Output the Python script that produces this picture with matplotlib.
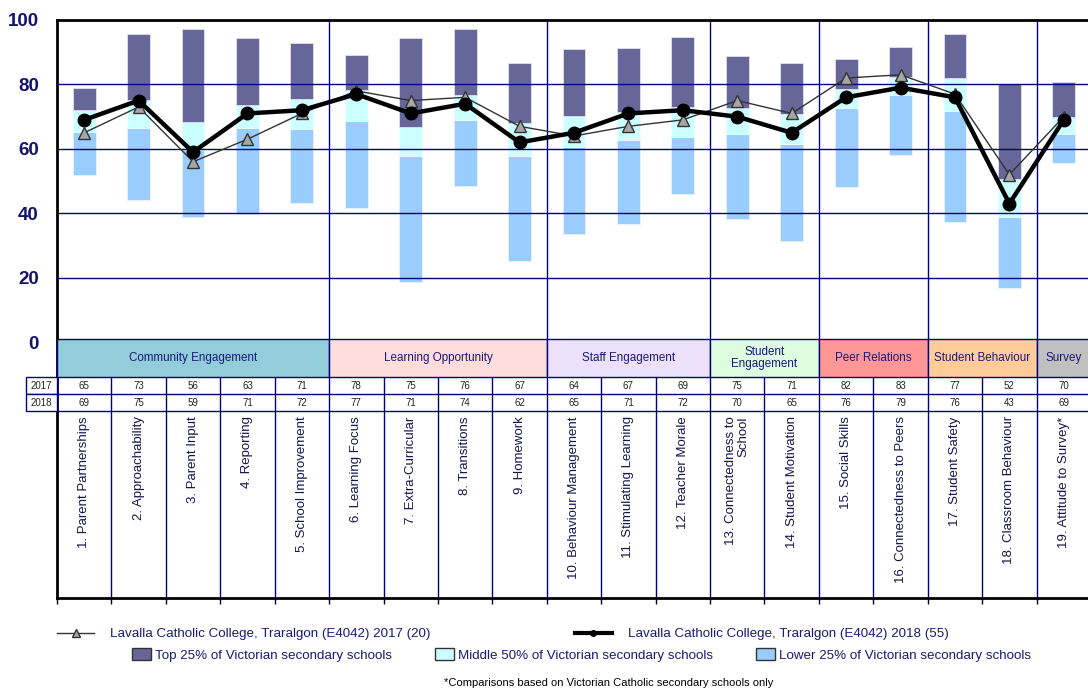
import matplotlib
matplotlib.use("Agg")
import matplotlib.pyplot as plt
from matplotlib.lines import Line2D
from matplotlib.patches import Patch, Rectangle
import numpy as np

plt.rcParams["font.family"] = ["Liberation Sans", "DejaVu Sans"]

ITEMS = [
    "1. Parent Partnerships", "2. Approachability", "3. Parent Input", "4. Reporting",
    "5. School Improvement", "6. Learning Focus", "7. Extra-Curricular", "8. Transitions",
    "9. Homework", "10. Behaviour Management", "11. Stimulating Learning",
    "12. Teacher Morale", "13. Connectedness to\nSchool", "14. Student Motivation",
    "15. Social Skills", "16. Connectedness to Peers", "17. Student Safety",
    "18. Classroom Behaviour", "19. Attitude to Survey*",
]
GROUPS = ["Community Engagement", "Learning Opportunity", "Staff Engagement",
          "Student\nEngagement", "Peer Relations", "Student Behaviour", "Survey"]
GROUP_SIZES = [5, 4, 3, 2, 2, 2, 1]
GROUP_COLORS = ["#93CDDC", "#FDDCDC", "#ECE0FA", "#DEFCDE", "#FF9797", "#FFCC99", "#C0C0C0"]

SCORES_2017 = [65, 73, 56, 63, 71, 78, 75, 76, 67, 64, 67, 69, 75, 71, 82, 83, 77, 52, 70]
SCORES_2018 = [69, 75, 59, 71, 72, 77, 71, 74, 62, 65, 71, 72, 70, 65, 76, 79, 76, 43, 69]

# Victorian secondary school quartile bands
BAND_LOW = [51.8, 44.1, 39.0, 39.8, 43.3, 41.7, 18.8, 48.5, 25.2, 33.5,
            36.7, 46.0, 38.1, 31.5, 48.3, 58.2, 37.2, 16.9, 55.6]
BAND_P25 = [65.2, 66.5, 59.5, 66.6, 66.3, 68.8, 57.7, 69.1, 57.8, 60.6,
            62.8, 63.8, 64.5, 61.4, 72.6, 76.6, 71.8, 39.0, 64.5]
BAND_P75 = [72.2, 75.2, 68.2, 73.7, 75.6, 78.4, 66.8, 76.8, 68.1, 70.2,
            71.4, 72.9, 72.7, 70.9, 78.6, 82.3, 82.1, 50.7, 69.8]
BAND_TOP = [78.9, 95.7, 97.1, 94.3, 93.0, 89.0, 94.3, 97.1, 86.7, 90.9,
            91.3, 94.6, 88.8, 86.6, 87.8, 91.6, 95.5, 80.0, 80.8]

NAVY = "#000080"
TEXT_NAVY = "#1A1A78"
LOW_COLOR = "#99CCFF"
MID_COLOR = "#CCFFFF"
TOP_COLOR = "#666699"

# table geometry in data units below zero
BAND_TOP_Y = 0.9
BAND_BOT_Y = -10.9
ROW1_BOT_Y = -16.1
ROW2_BOT_Y = -21.4
Y_MIN = -79.4

fig = plt.figure(figsize=(10.88, 6.90), dpi=100)
ax = fig.add_axes([57 / 1088, 92 / 690, 1034 / 1088, 578 / 690])

x = np.arange(1, len(ITEMS) + 1)
low = np.array(BAND_LOW)
p25 = np.array(BAND_P25)
p75 = np.array(BAND_P75)
top = np.array(BAND_TOP)

ax.bar(x, p25 - low, bottom=low, width=0.42, color=LOW_COLOR, edgecolor="#E8F2FF", linewidth=0.6, zorder=2)
ax.bar(x, p75 - p25, bottom=p25, width=0.42, color=MID_COLOR, edgecolor="#E8FFFF", linewidth=0.6, zorder=2)
ax.bar(x, top - p75, bottom=p75, width=0.42, color=TOP_COLOR, edgecolor="#E0E0F0", linewidth=0.6, zorder=2)

ax.hlines([20, 40, 60, 80], 0.5, len(ITEMS) + 0.5, color=NAVY, linewidth=1, zorder=3)

bounds = np.cumsum(GROUP_SIZES)[:-1] + 0.5
ax.vlines(bounds, BAND_TOP_Y, 100, color=NAVY, linewidth=1, zorder=3)

ax.plot(x, SCORES_2017, color="#333333", linewidth=1, marker="^", markersize=9,
        markerfacecolor="#A6A6A6", markeredgecolor="#333333", markeredgewidth=1, zorder=5)
ax.plot(x, SCORES_2018, color="black", linewidth=3.2, marker="o", markersize=9,
        markerfacecolor="black", markeredgecolor="black", zorder=6)

# group band
start = 0.5
for name, size, color in zip(GROUPS, GROUP_SIZES, GROUP_COLORS):
    ax.add_patch(Rectangle((start, BAND_BOT_Y), size, BAND_TOP_Y - BAND_BOT_Y,
                           facecolor=color, edgecolor=NAVY, linewidth=1, zorder=3))
    ax.text(start + size / 2, (BAND_TOP_Y + BAND_BOT_Y) / 2, name, ha="center", va="center",
            fontsize=8.4, color=TEXT_NAVY, linespacing=1.0, zorder=4)
    start += size

# score table
col_edges = np.arange(0.5, len(ITEMS) + 1.5)
ax.hlines([ROW1_BOT_Y, ROW2_BOT_Y], 0.5, len(ITEMS) + 0.5, color=NAVY, linewidth=1, zorder=3)
ax.vlines(col_edges[1:-1], Y_MIN, BAND_BOT_Y, color=NAVY, linewidth=1, zorder=3)
for xi, v17, v18 in zip(x, SCORES_2017, SCORES_2018):
    ax.text(xi, (BAND_BOT_Y + ROW1_BOT_Y) / 2, str(v17), ha="center", va="center", fontsize=7, color="#222222")
    ax.text(xi, (ROW1_BOT_Y + ROW2_BOT_Y) / 2, str(v18), ha="center", va="center", fontsize=7, color="#222222")

for y0, y1, year in [(ROW1_BOT_Y, BAND_BOT_Y, "2017"), (ROW2_BOT_Y, ROW1_BOT_Y, "2018")]:
    ax.add_patch(Rectangle((-0.07, y0), 0.57, y1 - y0, facecolor="white", edgecolor=NAVY,
                           linewidth=1, clip_on=False, zorder=3))
    ax.text(0.215, (y0 + y1) / 2, year, ha="center", va="center", fontsize=7, color="#222222", clip_on=False)

# item labels
for xi, label in zip(x, ITEMS):
    ax.text(xi, ROW2_BOT_Y - 1.6, label, rotation=90, ha="center", va="top", fontsize=9.5,
            color="#14144E", multialignment="right", linespacing=0.95)

ax.set_xlim(0.5, len(ITEMS) + 0.5)
ax.set_ylim(Y_MIN, 100)
ax.set_yticks([0, 20, 40, 60, 80, 100])
ax.set_xticks([])
ax.set_xticks(col_edges, minor=True)
ax.tick_params(axis="y", length=0, pad=13, labelsize=13.5, labelcolor="#14146E")
ax.tick_params(axis="x", which="minor", length=4, width=1, direction="out", color="black")
for lbl in ax.get_yticklabels():
    lbl.set_fontweight("bold")

ax.spines["right"].set_visible(False)
for side in ["left", "top", "bottom"]:
    ax.spines[side].set_linewidth(2)
    ax.spines[side].set_color("black")

# legends
line_handles = [
    Line2D([], [], color="#333333", linewidth=1, marker="^", markersize=6,
           markerfacecolor="#A6A6A6", markeredgecolor="#333333"),
    Line2D([], [], color="black", linewidth=3, marker="o", markersize=4),
]
line_labels = ["Lavalla Catholic College, Traralgon (E4042) 2017 (20)",
               "Lavalla Catholic College, Traralgon (E4042) 2018 (55)"]
leg_font = {"size": 9.6}
fig.legend(line_handles, line_labels, loc="center left", bbox_to_anchor=(57 / 1088, 56 / 690),
           ncol=2, frameon=False, borderpad=0, borderaxespad=0, handlelength=2.8,
           handletextpad=1.2, columnspacing=10.8, prop=leg_font, labelcolor=TEXT_NAVY)

patch_handles = [Patch(facecolor=c, edgecolor="#333333", linewidth=1)
                 for c in [TOP_COLOR, MID_COLOR, LOW_COLOR]]
patch_labels = ["Top 25% of Victorian secondary schools",
                "Middle 50% of Victorian secondary schools",
                "Lower 25% of Victorian secondary schools"]
fig.legend(patch_handles, patch_labels, loc="center left", bbox_to_anchor=(132 / 1088, 35 / 690),
           ncol=3, frameon=False, borderpad=0, borderaxespad=0, handlelength=1.45,
           handleheight=0.9, handletextpad=0.3, columnspacing=3.2, prop=leg_font,
           labelcolor=TEXT_NAVY)

fig.text(444 / 1088, 7 / 690, "*Comparisons based on Victorian Catholic secondary schools only",
         ha="left", va="center", fontsize=8, color="black")

fig.savefig("out.png", dpi=100)
